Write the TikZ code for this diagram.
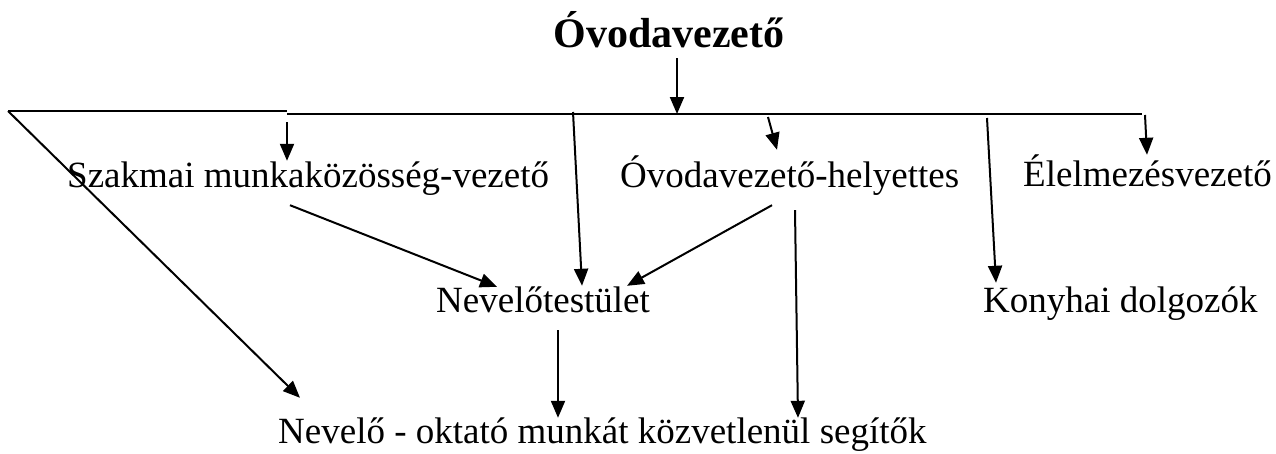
\documentclass[tikz,border=0pt]{standalone}
\usepackage{fontspec}
\setmainfont{Liberation Serif}
\usetikzlibrary{arrows.meta}

\tikzset{
  lbl/.style={inner sep=0pt, anchor=base west, font=\fontsize{37}{40}\selectfont,
    text height=26pt, text depth=18pt},
  arr/.style={line width=2pt, -{Triangle[length=17pt,width=14pt]}},
  bus/.style={line width=1.4pt},
}

\begin{document}
\begin{tikzpicture}[x=1pt,y=-1pt]
\useasboundingbox (0,0) rectangle (1276,453);

\node[inner sep=0pt, anchor=base, font=\fontsize{42}{46}\selectfont\bfseries] (title) at (669,47) {Óvodavezető};

\node[lbl] (szakmai) at (67,187) {Szakmai munkaközösség-vezető};
\node[lbl] (helyettes) at (620,187) {Óvodavezető-helyettes};
\node[lbl] (elelmezes) at (1023,186) {Élelmezésvezető};
\node[lbl] (nevelo) at (436,312) {Nevelőtestület};
\node[lbl] (konyhai) at (983,312) {Konyhai dolgozók};
\node[lbl] (bottom) at (278,443) {Nevelő - oktató munkát közvetlenül segítők};

% the line under the head
\coordinate (busL) at (8,111);
\coordinate (busJ) at (287,111);
\coordinate (busR) at (1142,114);
\coordinate (busT) at (677,114);
\draw[bus] (busL) -- (busJ) ++(0,3) -- (busR);

\coordinate (b1) at (287,122);
\coordinate (b2) at (573,112);
\coordinate (b3) at (768,117);
\coordinate (b4) at (987,118);
\coordinate (b5) at (1145,115);

\draw[arr] ([xshift=8pt,yshift=-11pt]title.base) -- (busT);
\draw[arr] (b1) -- ([xshift=220pt]szakmai.north west);
\draw[arr] (b2) -- ([xshift=146pt]nevelo.north west);
\draw[arr] (b3) -- ([xshift=157pt,yshift=11pt]helyettes.north west);
\draw[arr] (b4) -- ([xshift=13pt,yshift=3pt]konyhai.north west);
\draw[arr] (b5) -- ([xshift=124pt,yshift=5pt]elelmezes.north west);
\draw[arr] (busL) -- ([xshift=22pt,yshift=19pt]bottom.north west);

\draw[arr] ([xshift=223pt]szakmai.south west) -- ([xshift=61pt,yshift=-1pt]nevelo.north west);
\draw[arr] ([xshift=152pt]helyettes.south west) -- ([xshift=191pt]nevelo.north west);
\draw[arr] ([xshift=175pt,yshift=-5pt]helyettes.south west) -- ([xshift=520pt,yshift=-1pt]bottom.north west);
\draw[arr] ([xshift=122pt]nevelo.south west) -- ([xshift=280pt,yshift=-1pt]bottom.north west);
\end{tikzpicture}
\end{document}
